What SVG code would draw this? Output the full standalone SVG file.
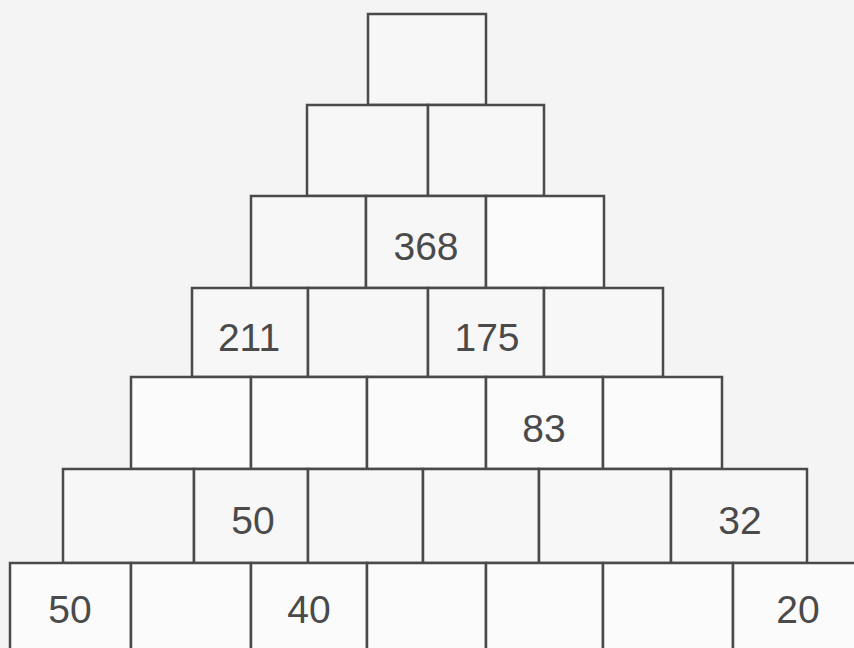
<svg xmlns="http://www.w3.org/2000/svg" width="854" height="648" viewBox="0 0 854 648">
<style>
.b{fill:#f7f7f7;stroke:#4a4a4a;stroke-width:2.5}
.w{fill:#fbfbfb;stroke:#4a4a4a;stroke-width:2.5}
.t{font-family:"Liberation Sans",Arial,sans-serif;font-size:39px;fill:#4a4a4a;text-anchor:middle}
</style>
<rect width="854" height="648" fill="#f4f4f4"/>
<g id="r1c1"><rect class="b" x="368" y="14" width="118" height="91"/></g>
<g id="r2c1"><rect class="b" x="307" y="105" width="121" height="91"/></g>
<g id="r2c2"><rect class="b" x="428" y="105" width="116" height="91"/></g>
<g id="r3c1"><rect class="b" x="251" y="196" width="115" height="92"/></g>
<g id="r3c2"><rect class="b" x="366" y="196" width="120" height="92"/><text class="t" x="426" y="260">368</text></g>
<g id="r3c3"><rect class="w" x="486" y="196" width="118" height="92"/></g>
<g id="r4c1"><rect class="b" x="192" y="288" width="116" height="89"/><text class="t" x="249" y="351">211</text></g>
<g id="r4c2"><rect class="b" x="308" y="288" width="120" height="89"/></g>
<g id="r4c3"><rect class="b" x="428" y="288" width="116" height="89"/><text class="t" x="487" y="351">175</text></g>
<g id="r4c4"><rect class="b" x="544" y="288" width="119" height="89"/></g>
<g id="r5c1"><rect class="w" x="131" y="377" width="120" height="92"/></g>
<g id="r5c2"><rect class="w" x="251" y="377" width="116" height="92"/></g>
<g id="r5c3"><rect class="w" x="367" y="377" width="119" height="92"/></g>
<g id="r5c4"><rect class="w" x="486" y="377" width="117" height="92"/><text class="t" x="544" y="442">83</text></g>
<g id="r5c5"><rect class="w" x="603" y="377" width="119" height="92"/></g>
<g id="r6c1"><rect class="b" x="63" y="469" width="131" height="94"/></g>
<g id="r6c2"><rect class="b" x="194" y="469" width="114" height="94"/><text class="t" x="253" y="534">50</text></g>
<g id="r6c3"><rect class="b" x="308" y="469" width="115" height="94"/></g>
<g id="r6c4"><rect class="b" x="423" y="469" width="116" height="94"/></g>
<g id="r6c5"><rect class="b" x="539" y="469" width="132" height="94"/></g>
<g id="r6c6"><rect class="b" x="671" y="469" width="136" height="94"/><text class="t" x="740" y="534">32</text></g>
<g id="r7c1"><rect class="w" x="10" y="563" width="121" height="100"/><text class="t" x="70" y="623">50</text></g>
<g id="r7c2"><rect class="w" x="131" y="563" width="120" height="100"/></g>
<g id="r7c3"><rect class="w" x="251" y="563" width="116" height="100"/><text class="t" x="309" y="623">40</text></g>
<g id="r7c4"><rect class="w" x="367" y="563" width="119" height="100"/></g>
<g id="r7c5"><rect class="w" x="486" y="563" width="117" height="100"/></g>
<g id="r7c6"><rect class="w" x="603" y="563" width="130" height="100"/></g>
<g id="r7c7"><rect class="w" x="733" y="563" width="140" height="100"/><text class="t" x="798" y="623">20</text></g>
<g id="connectors"/>
</svg>
